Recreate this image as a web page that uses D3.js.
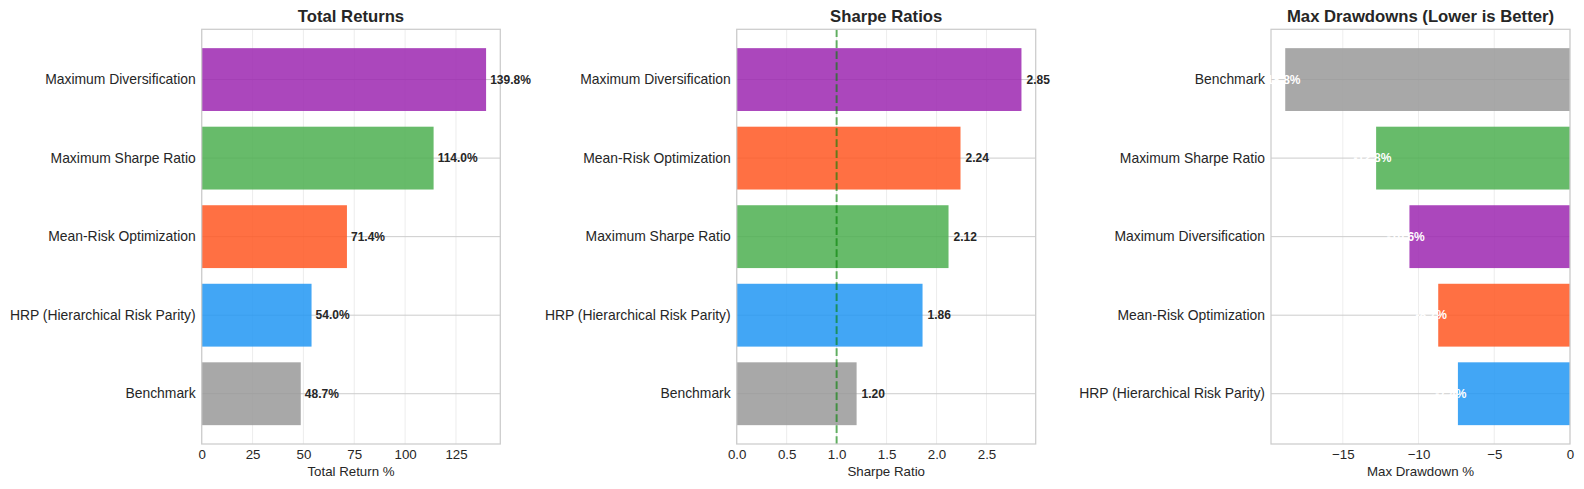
<!DOCTYPE html>
<html>
<head>
<meta charset="utf-8">
<script src="https://cdn.jsdelivr.net/npm/d3@7"></script>
<style>
  body { margin: 0; background: #fff; }
  svg { display: block; font-family: "Liberation Sans", Arial, sans-serif; }
</style>
</head>
<body>
<div class="chart"></div>
<script>
// strategy colours
const strategyColors = {
  "Maximum Diversification": "#9C27B0",
  "Maximum Sharpe Ratio": "#4CAF50",
  "Mean-Risk Optimization": "#FF5722",
  "HRP (Hierarchical Risk Parity)": "#2196F3",
  "Benchmark": "#999999"
};

// total returns (%), top to bottom
const returnsCats = ["Maximum Diversification", "Maximum Sharpe Ratio", "Mean-Risk Optimization", "HRP (Hierarchical Risk Parity)", "Benchmark"];
const returnsVals = [139.8, 114.0, 71.4, 54.0, 48.7];
const returnsTicks = [0, 25, 50, 75, 100, 125];

// sharpe ratios
const sharpeCats = ["Maximum Diversification", "Mean-Risk Optimization", "Maximum Sharpe Ratio", "HRP (Hierarchical Risk Parity)", "Benchmark"];
const sharpeVals = [2.85, 2.24, 2.12, 1.86, 1.20];
const sharpeTicks = [0, 0.5, 1.0, 1.5, 2.0, 2.5];
const sharpeRef = 1.0;

// max drawdowns (%)
const drawdownCats = ["Benchmark", "Maximum Sharpe Ratio", "Maximum Diversification", "Mean-Risk Optimization", "HRP (Hierarchical Risk Parity)"];
const drawdownVals = [-18.8, -12.8, -10.6, -8.7, -7.4];
const drawdownTicks = [-15, -10, -5, 0];

const W = 1584, H = 489;
const plotTop = 29.3, plotBottom = 444;
const textColor = "#262626";

const panels = [
  { title: "Total Returns", xlabel: "Total Return %", cats: returnsCats, vals: returnsVals,
    ticks: returnsTicks, domain: [0, d3.max(returnsVals) * 1.05], left: 201.7, right: 500.3,
    tickFmt: d3.format("d"), labelFmt: d => d.toFixed(1) + "%", labelOff: 2.0, labelColor: textColor },
  { title: "Sharpe Ratios", xlabel: "Sharpe Ratio", cats: sharpeCats, vals: sharpeVals,
    ticks: sharpeTicks, domain: [0, d3.max(sharpeVals) * 1.05], left: 736.7, right: 1035.7,
    tickFmt: d3.format(".1f"), labelFmt: d => d.toFixed(2), labelOff: 0.05, labelColor: textColor,
    refLine: sharpeRef },
  { title: "Max Drawdowns (Lower is Better)", xlabel: "Max Drawdown %", cats: drawdownCats, vals: drawdownVals,
    ticks: drawdownTicks, domain: [d3.min(drawdownVals) * 1.05, 0], left: 1271, right: 1570,
    tickFmt: d3.format("d"), labelFmt: d => d.toFixed(1) + "%", labelOff: -1.5, labelColor: "#ffffff" }
];

const svg = d3.select(".chart")
  .append("svg")
  .attr("width", W)
  .attr("height", H);

panels.forEach(p => {
  const x = d3.scaleLinear().domain(p.domain).range([p.left, p.right]);
  const y = d3.scaleBand()
    .domain(p.cats)
    .range([plotTop, plotBottom])
    .paddingInner(0.2)
    .paddingOuter(0.24);

  const g = svg.append("g");

  // vertical grid
  g.append("g")
    .selectAll("line")
    .data(p.ticks)
    .join("line")
    .attr("x1", d => x(d)).attr("x2", d => x(d))
    .attr("y1", plotTop).attr("y2", plotBottom)
    .attr("stroke", "#cccccc")
    .attr("stroke-opacity", 0.35)
    .attr("stroke-width", 1);

  // horizontal grid at category centres
  g.append("g")
    .selectAll("line")
    .data(p.cats)
    .join("line")
    .attr("x1", p.left).attr("x2", p.right)
    .attr("y1", d => y(d) + y.bandwidth() / 2)
    .attr("y2", d => y(d) + y.bandwidth() / 2)
    .attr("stroke", "#cccccc")
    .attr("stroke-width", 1);

  // bars
  const rows = p.cats.map((c, i) => ({ cat: c, val: p.vals[i] }));
  g.append("g")
    .selectAll("rect")
    .data(rows)
    .join("rect")
    .attr("x", d => Math.min(x(0), x(d.val)))
    .attr("width", d => Math.abs(x(d.val) - x(0)))
    .attr("y", d => y(d.cat))
    .attr("height", y.bandwidth())
    .attr("fill", d => strategyColors[d.cat])
    .attr("fill-opacity", 0.85);

  if (p.refLine !== undefined) {
    g.append("line")
      .attr("x1", x(p.refLine)).attr("x2", x(p.refLine))
      .attr("y1", plotTop).attr("y2", plotBottom)
      .attr("stroke", "green")
      .attr("stroke-opacity", 0.6)
      .attr("stroke-width", 2)
      .attr("stroke-dasharray", "7.7,3.3");
  }

  // frame
  g.append("rect")
    .attr("x", p.left).attr("y", plotTop)
    .attr("width", p.right - p.left).attr("height", plotBottom - plotTop)
    .attr("fill", "none")
    .attr("stroke", "#cccccc")
    .attr("stroke-width", 1.25);

  // x axis
  const xa = g.append("g")
    .attr("transform", `translate(0,${plotBottom})`)
    .call(d3.axisBottom(x).tickValues(p.ticks).tickFormat(p.tickFmt).tickSize(0).tickPadding(6));
  xa.select(".domain").remove();
  xa.selectAll("text")
    .attr("font-size", 13.3)
    .attr("font-family", "Liberation Sans, Arial, sans-serif")
    .attr("fill", textColor);

  // y axis
  const ya = g.append("g")
    .attr("transform", `translate(${p.left},0)`)
    .call(d3.axisLeft(y).tickSize(0).tickPadding(6));
  ya.select(".domain").remove();
  ya.selectAll("text")
    .attr("font-size", 13.9)
    .attr("font-family", "Liberation Sans, Arial, sans-serif")
    .attr("fill", textColor);

  // value labels
  g.append("g")
    .selectAll("text")
    .data(rows)
    .join("text")
    .attr("x", d => x(d.val + p.labelOff))
    .attr("y", d => y(d.cat) + y.bandwidth() / 2)
    .attr("dy", "0.35em")
    .attr("text-anchor", "start")
    .attr("font-size", 12)
    .attr("font-weight", "bold")
    .attr("fill", p.labelColor)
    .text(d => p.labelFmt(d.val));

  // title
  g.append("text")
    .attr("x", (p.left + p.right) / 2)
    .attr("y", 22.3)
    .attr("text-anchor", "middle")
    .attr("font-size", 16.7)
    .attr("font-weight", "bold")
    .attr("fill", textColor)
    .text(p.title);

  // x label
  g.append("text")
    .attr("x", (p.left + p.right) / 2)
    .attr("y", 476.3)
    .attr("text-anchor", "middle")
    .attr("font-size", 13.3)
    .attr("fill", textColor)
    .text(p.xlabel);
});
</script>
</body>
</html>
